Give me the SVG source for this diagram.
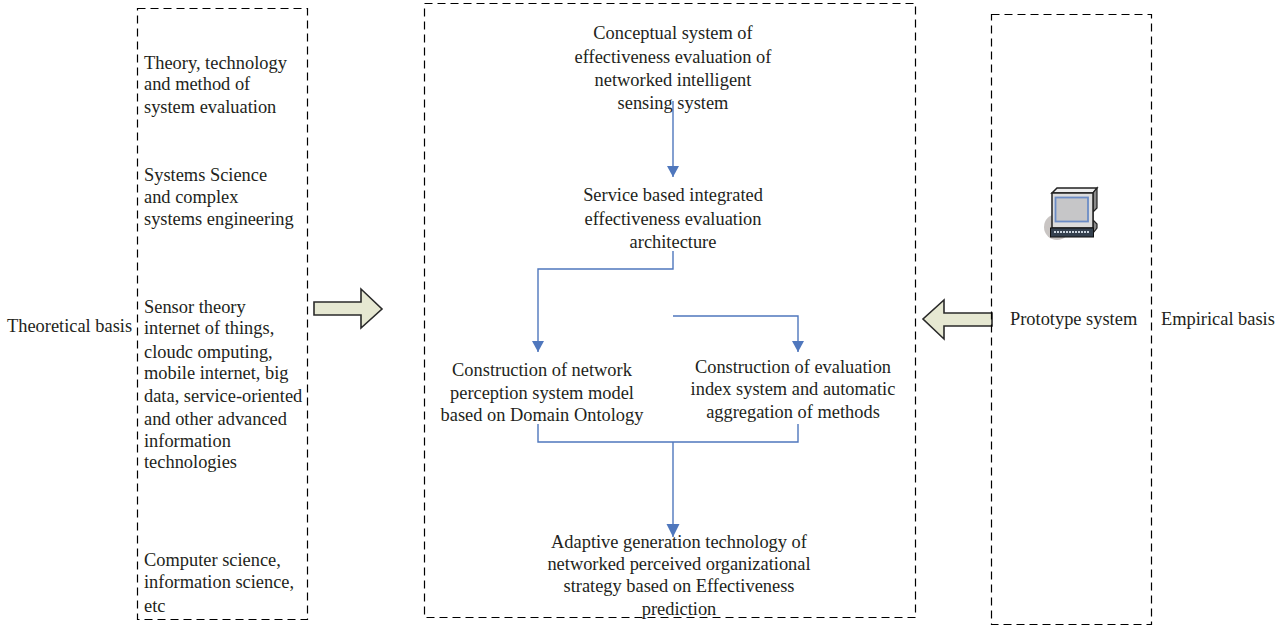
<svg xmlns="http://www.w3.org/2000/svg" width="1286" height="629" viewBox="0 0 1286 629">
<defs>
<style>
text{font-family:"Liberation Serif","Times New Roman",serif;font-size:18.4px;fill:#231f20}
.m{text-anchor:middle}
.box{fill:none;stroke:#000;stroke-width:1.2;stroke-dasharray:8 5}
.c{fill:none;stroke:#4f77bd;stroke-width:1.4}
.a{fill:#e6e8d2;stroke:#2a2a2a;stroke-width:1.6}
</style>
<marker id="arr" markerUnits="userSpaceOnUse" markerWidth="13" markerHeight="13" refX="11" refY="6" orient="auto"><path d="M0 0L11 6L0 12Z" fill="#4f77bd"/></marker>
<marker id="arrb" markerUnits="userSpaceOnUse" markerWidth="14" markerHeight="14" refX="13" refY="6.5" orient="auto"><path d="M0 0L13 6.5L0 13Z" fill="#4f77bd"/></marker>
</defs>
<rect width="1286" height="629" fill="#fff"/>
<g id="connectors">
<path class="c" d="M673 101V177" marker-end="url(#arr)"/>
<path class="c" d="M673 251V269H538V352" marker-end="url(#arr)"/>
<path class="c" d="M673 316H798V352" marker-end="url(#arr)"/>
<path class="c" d="M538 424V442H798V424"/>
<path class="c" d="M673 442V537" stroke-width="1.8" marker-end="url(#arrb)"/>
</g>
<g id="theoretical-label"><text x="7" y="332">Theoretical basis</text></g>
<g id="theory-box">
<rect class="box" x="137.500" y="8.500" width="170" height="611"/>
<text x="144" y="69">Theory, technology</text>
<text x="144" y="90">and method of</text>
<text x="144" y="113">system evaluation</text>
<text x="144" y="181">Systems Science</text>
<text x="144" y="203">and complex</text>
<text x="144" y="225">systems engineering</text>
<text x="144" y="313">Sensor theory</text>
<text x="144" y="334">internet of things,</text>
<text x="144" y="358">cloudc omputing,</text>
<text x="144" y="379">mobile internet, big</text>
<text x="144" y="402">data, service-oriented</text>
<text x="144" y="425">and other advanced</text>
<text x="144" y="447">information</text>
<text x="144" y="468">technologies</text>
<text x="144" y="566">Computer science,</text>
<text x="144" y="588">information science,</text>
<text x="144" y="612">etc</text>
</g>
<g id="arrow-right"><path class="a" d="M314 302H361V289L382 309L361 328V315H314Z"/></g>
<g id="main-box"><rect class="box" x="424.500" y="3.500" width="491" height="614"/></g>
<g id="n1">
<text class="m" x="673" y="39">Conceptual system of</text>
<text class="m" x="673" y="63">effectiveness evaluation of</text>
<text class="m" x="673" y="86">networked intelligent</text>
<text class="m" x="673" y="109">sensing system</text>
</g>
<g id="n2">
<text class="m" x="673" y="201">Service based integrated</text>
<text class="m" x="673" y="225">effectiveness evaluation</text>
<text class="m" x="673" y="248">architecture</text>
</g>
<g id="n3">
<text class="m" x="542" y="376">Construction of network</text>
<text class="m" x="542" y="399">perception system model</text>
<text class="m" x="542" y="421">based on Domain Ontology</text>
</g>
<g id="n4">
<text class="m" x="793" y="373">Construction of evaluation</text>
<text class="m" x="793" y="395">index system and automatic</text>
<text class="m" x="793" y="418">aggregation of methods</text>
</g>
<g id="n5">
<text class="m" x="679" y="548">Adaptive generation technology of</text>
<text class="m" x="679" y="570">networked perceived organizational</text>
<text class="m" x="679" y="592">strategy based on Effectiveness</text>
<text class="m" x="679" y="615">prediction</text>
</g>
<g id="arrow-left"><path class="a" d="M992 313H944V300L923 319L944 339V326H992Z"/></g>
<g id="prototype-box">
<rect class="box" x="991.500" y="14.500" width="160" height="610"/>
<circle cx="1057" cy="227" r="13" fill="#c9c5c3"/>
<path d="M1052 193L1057 188H1097L1093 193Z" fill="#efefef" stroke="#222" stroke-width="1.5"/>
<path d="M1093 193L1097 188V208L1093 212V220L1097 224V228L1093 233Z" fill="#8a8a8a" stroke="#222" stroke-width="1.2"/>
<rect x="1052" y="193" width="41" height="35" fill="#dcdcdc" stroke="#222" stroke-width="1.5"/>
<rect x="1055.500" y="197.500" width="32.500" height="24" fill="#c6c6c8" stroke="#6b8cc6" stroke-width="1.800"/>
<rect x="1050.500" y="228" width="43" height="9" fill="#34404e" stroke="#111"/>
<path d="M1054 232H1090" stroke="#c9d3dd" stroke-width="2" stroke-dasharray="2 1"/>
<text x="1010" y="325">Prototype system</text>
</g>
<g id="empirical-label"><text x="1161" y="325">Empirical basis</text></g>
</svg>
